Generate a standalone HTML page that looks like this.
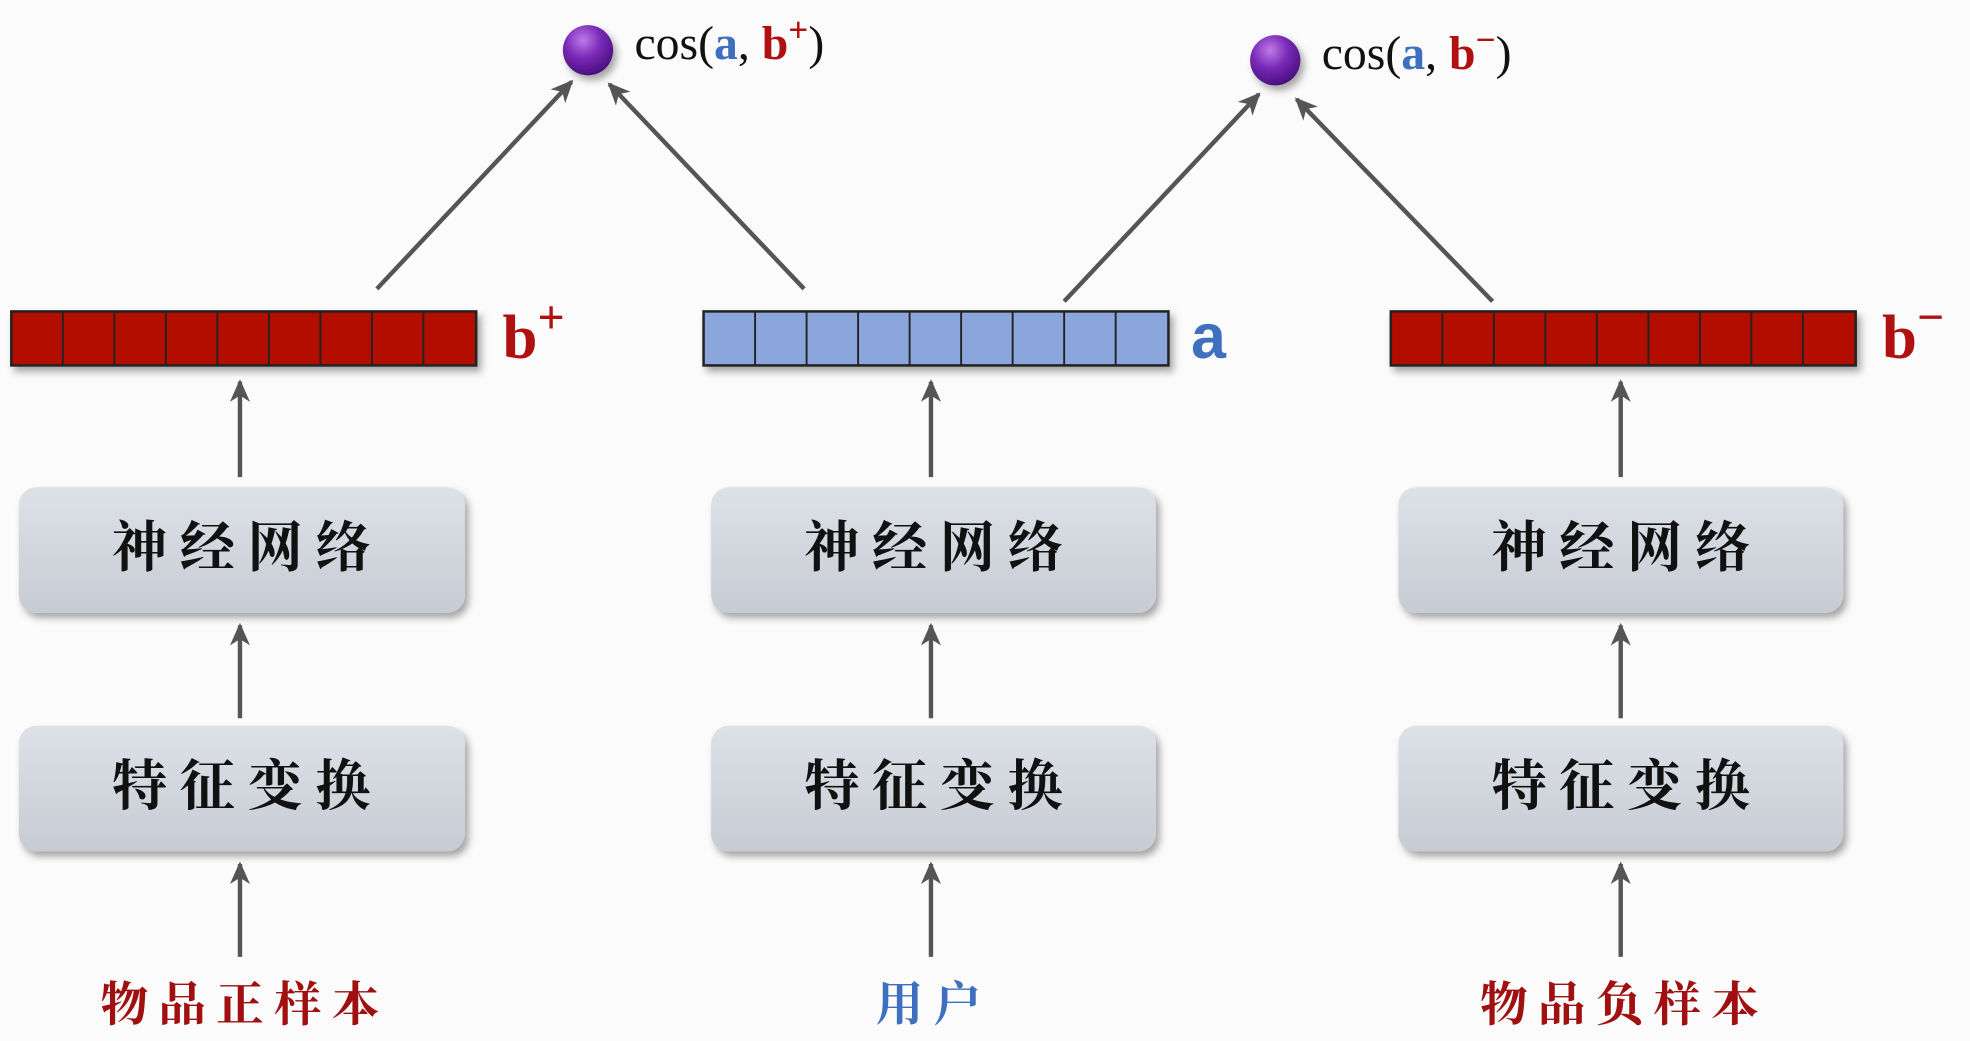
<!DOCTYPE html>
<html><head><meta charset="utf-8"><style>
html,body{margin:0;padding:0;background:#fbfbfb;}
svg{display:block;}
.cn{font-family:"Liberation Serif","Noto Serif CJK SC","Noto Sans CJK SC",serif;font-weight:bold;}
.m{font-family:"Liberation Serif","DejaVu Serif",serif;}
</style></head><body>
<svg width="1970" height="1041" viewBox="0 0 1568 829" preserveAspectRatio="none" xmlns="http://www.w3.org/2000/svg">
<defs>
<marker id="ah" markerWidth="18" markerHeight="16" refX="16" refY="8" orient="auto" markerUnits="userSpaceOnUse" viewBox="0 0 18 16">
<path d="M0,0 L18,8 L0,16 L5,8 z" fill="#555"/></marker>
<radialGradient id="sp" cx="0.4" cy="0.3" r="0.7"><stop offset="0" stop-color="#c07ae8"/><stop offset="0.5" stop-color="#7a2bb8"/><stop offset="1" stop-color="#4a1080"/></radialGradient>
<linearGradient id="bx" x1="0" y1="0" x2="0" y2="1"><stop offset="0" stop-color="#dde1e8"/><stop offset="1" stop-color="#c7ccd4"/></linearGradient>
<filter id="sh" x="-10%" y="-20%" width="130%" height="150%"><feDropShadow dx="3" dy="4" stdDeviation="3" flood-color="#000" flood-opacity="0.35"/></filter>
</defs>
<rect width="1568" height="829" fill="#fbfbfb"/>
<g stroke="#555" stroke-width="3.5" fill="none" marker-end="url(#ah)">
<line x1="300" y1="230" x2="455" y2="65"/>
<line x1="640" y1="230" x2="485" y2="67"/>
<line x1="847" y1="240" x2="1002" y2="75"/>
<line x1="1188" y1="240" x2="1032" y2="79"/>
<line x1="191" y1="380" x2="191" y2="304"/>
<line x1="741" y1="380" x2="741" y2="304"/>
<line x1="1290" y1="380" x2="1290" y2="304"/>
<line x1="191" y1="572" x2="191" y2="498"/>
<line x1="741" y1="572" x2="741" y2="498"/>
<line x1="1290" y1="572" x2="1290" y2="498"/>
<line x1="191" y1="762" x2="191" y2="688"/>
<line x1="741" y1="762" x2="741" y2="688"/>
<line x1="1290" y1="762" x2="1290" y2="688"/>
</g>
<circle cx="468" cy="40" r="20" fill="url(#sp)" filter="url(#sh)"/>
<circle cx="1015" cy="48" r="20" fill="url(#sp)" filter="url(#sh)"/>
<text x="505" y="47" font-size="38" class="m" fill="#111">cos(<tspan fill="#3f6fbf" font-weight="bold">a</tspan>, <tspan fill="#b01010" font-weight="bold">b</tspan><tspan fill="#b01010" dy="-14" font-size="28" font-weight="bold">+</tspan><tspan dy="14">)</tspan></text>
<text x="1052" y="55" font-size="38" class="m" fill="#111">cos(<tspan fill="#3f6fbf" font-weight="bold">a</tspan>, <tspan fill="#b01010" font-weight="bold">b</tspan><tspan fill="#b01010" dy="-14" font-size="28" font-weight="bold">−</tspan><tspan dy="14">)</tspan></text>
<g filter="url(#sh)">
<rect x="9" y="248" width="370" height="43" fill="#b30f00" stroke="#222" stroke-width="2"/>
<rect x="560" y="248" width="370" height="43" fill="#8aa6dc" stroke="#222" stroke-width="2"/>
<rect x="1107" y="248" width="370" height="43" fill="#b30f00" stroke="#222" stroke-width="2"/>
</g>
<g stroke="#222" stroke-width="1.5">
<path d="M50,248v43M91,248v43M132,248v43M173,248v43M214,248v43M255,248v43M296,248v43M337,248v43"/>
<path d="M601,248v43M642,248v43M683,248v43M724,248v43M765,248v43M806,248v43M847,248v43M888,248v43"/>
<path d="M1148,248v43M1189,248v43M1230,248v43M1271,248v43M1312,248v43M1353,248v43M1394,248v43M1435,248v43"/>
</g>
<text x="400" y="285" font-size="50" font-weight="bold" fill="#b01010" font-family="Liberation Serif,serif">b<tspan dy="-20" font-size="38">+</tspan></text>
<text x="948" y="285" font-size="50" font-weight="bold" fill="#3f6fbf" font-family="Liberation Sans,sans-serif">a</text>
<text x="1498" y="285" font-size="50" font-weight="bold" fill="#b01010" font-family="Liberation Serif,serif">b<tspan dy="-20" font-size="38">−</tspan></text>
<g fill="url(#bx)" filter="url(#sh)">
<rect x="15" y="388" width="355" height="100" rx="14"/>
<rect x="566" y="388" width="354" height="100" rx="14"/>
<rect x="1113" y="388" width="354" height="100" rx="14"/>
<rect x="15" y="578" width="355" height="100" rx="14"/>
<rect x="566" y="578" width="354" height="100" rx="14"/>
<rect x="1113" y="578" width="354" height="100" rx="14"/>
</g>
<g class="cn" font-size="44" fill="#111" text-anchor="middle" letter-spacing="10">
<text x="197" y="451">神经网络</text>
<text x="748" y="451">神经网络</text>
<text x="1295" y="451">神经网络</text>
<text x="197" y="641">特征变换</text>
<text x="748" y="641">特征变换</text>
<text x="1295" y="641">特征变换</text>
</g>
<g class="cn" font-size="38" text-anchor="middle" letter-spacing="8">
<text x="195" y="813" fill="#a01010">物品正样本</text>
<text x="743" y="813" fill="#3f6fbf">用户</text>
<text x="1293" y="813" fill="#a01010">物品负样本</text>
</g>
</svg>
</body></html>
